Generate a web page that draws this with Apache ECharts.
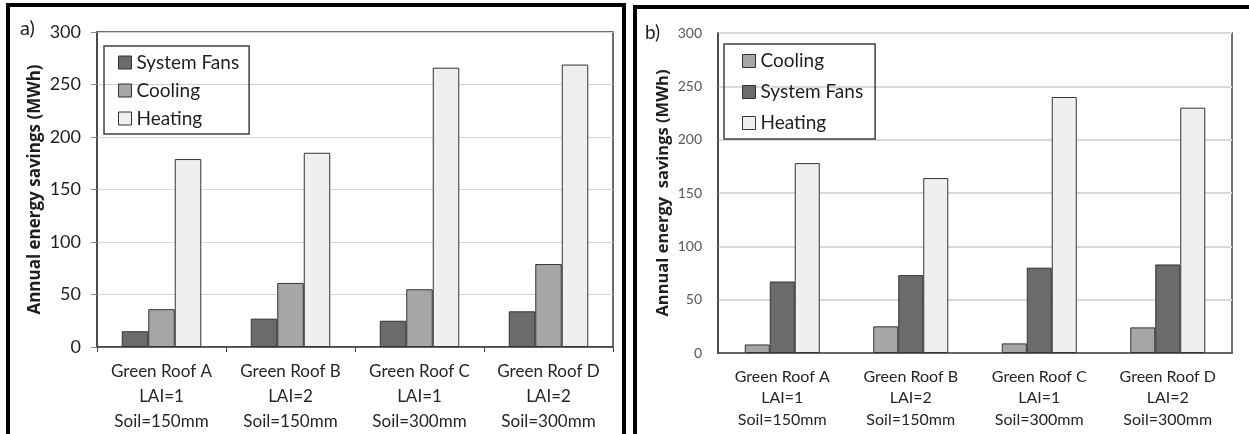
<!DOCTYPE html>
<html>
<head>
<meta charset="utf-8">
<script src="https://cdn.jsdelivr.net/npm/echarts@6/dist/echarts.min.js"></script>
<style>
html,body{margin:0;padding:0;background:#fff;}
#chart{width:1249px;height:434px;}
</style>
</head>
<body>
<div id="chart"></div>
<script>
// ---- data ----
var roofNames = ['Green Roof A', 'Green Roof B', 'Green Roof C', 'Green Roof D'];
var roofLAI = ['LAI=1', 'LAI=2', 'LAI=1', 'LAI=2'];
var roofSoil = ['Soil=150mm', 'Soil=150mm', 'Soil=300mm', 'Soil=300mm'];
var yTicks = [0, 50, 100, 150, 200, 250, 300];

// panel a
var aFans = [15, 27, 25, 34];
var aCooling = [36, 61, 55, 79];
var aHeating = [179, 185, 266, 269];
// panel b
var bCooling = [8, 25, 9, 24];
var bFans = [67, 73, 80, 83];
var bHeating = [178, 164, 240, 230];

var categories = roofNames.map(function (n, i) { return n + '\n' + roofLAI[i] + '\n' + roofSoil[i]; });

var FONT = 'Lato, "Open Sans", sans-serif';
var BOLD = '"Open Sans", "Noto Sans", sans-serif';
var cFans = '#6b6b6b', cCool = '#a6a6a6', cHeat = '#efefef', cEdge = '#333333';

function bar(name, data, color, gi, w) {
  return {
    type: 'bar', name: name, data: data,
    xAxisIndex: gi, yAxisIndex: gi,
    barWidth: w, barGap: '0%',
    itemStyle: { color: color, borderColor: cEdge, borderWidth: 1 },
    emphasis: { disabled: true },
    animation: false
  };
}

var chart = echarts.init(document.getElementById('chart'), null, { renderer: 'canvas' });
chart.setOption({
  backgroundColor: '#ffffff',
  animation: false,
  textStyle: { fontFamily: FONT },
  grid: [
    { left: 97, top: 32, right: 636, bottom: 86, show: true, borderColor: '#404040', borderWidth: 1.5, backgroundColor: 'transparent' },
    { left: 718, top: 33, right: 17, bottom: 81, show: true, borderColor: '#404040', borderWidth: 1.5, backgroundColor: 'transparent' }
  ],
  legend: [
    {
      data: ['System Fans', 'Cooling', 'Heating'],
      orient: 'vertical', left: 104, top: 46,
      padding: [6, 10, 5, 14],
      itemWidth: 13, itemHeight: 13, itemGap: 7,
      borderColor: '#404040', borderWidth: 1.5,
      icon: 'rect',
      itemStyle: { borderColor: cEdge, borderWidth: 1 },
      textStyle: { fontFamily: FONT, fontSize: 19, color: '#1f1f1f', lineHeight: 21 },
      selectedMode: false
    },
    {
      data: ['Cooling', 'System Fans', 'Heating'],
      orient: 'vertical', left: 724, top: 44,
      padding: [6, 12, 5, 18],
      itemWidth: 13, itemHeight: 13, itemGap: 9,
      borderColor: '#404040', borderWidth: 1.5,
      icon: 'rect',
      itemStyle: { borderColor: cEdge, borderWidth: 1 },
      textStyle: { fontFamily: FONT, fontSize: 19, color: '#1f1f1f', lineHeight: 22 },
      selectedMode: false
    }
  ],
  xAxis: [
    {
      type: 'category', gridIndex: 0, data: categories,
      axisLine: { lineStyle: { color: '#404040', width: 1.5 } },
      axisTick: { show: true, length: 5, lineStyle: { color: '#404040' } },
      axisLabel: { fontFamily: FONT, fontSize: 17, color: '#262626', lineHeight: 25, margin: 12, interval: 0 }
    },
    {
      type: 'category', gridIndex: 1, data: categories,
      axisLine: { lineStyle: { color: '#404040', width: 1.5 } },
      axisTick: { show: false },
      axisLabel: { fontFamily: FONT, fontSize: 16, color: '#262626', lineHeight: 21.5, margin: 13, interval: 0 }
    }
  ],
  yAxis: [
    {
      type: 'value', gridIndex: 0, min: yTicks[0], max: yTicks[yTicks.length - 1], interval: yTicks[1] - yTicks[0],
      name: 'Annual energy savings (MWh)', nameLocation: 'middle', nameGap: 53,
      nameTextStyle: { fontFamily: BOLD, fontSize: 17, fontWeight: 'bold', color: '#1f1f1f' },
      axisLine: { show: true, lineStyle: { color: '#404040', width: 1.5 } },
      axisTick: { show: true, length: 6, lineStyle: { color: '#8c8c8c' } },
      axisLabel: { fontFamily: FONT, fontSize: 18, color: '#1f1f1f', margin: 16 },
      splitLine: { show: true, lineStyle: { color: '#d4d4d4', width: 1 } }
    },
    {
      type: 'value', gridIndex: 1, min: yTicks[0], max: yTicks[yTicks.length - 1], interval: yTicks[1] - yTicks[0],
      name: 'Annual energy  savings (MWh)', nameLocation: 'middle', nameGap: 46,
      nameTextStyle: { fontFamily: BOLD, fontSize: 16.5, fontWeight: 'bold', color: '#1f1f1f' },
      axisLine: { show: true, lineStyle: { color: '#404040', width: 1.5 } },
      axisTick: { show: false },
      axisLabel: { fontFamily: FONT, fontSize: 14, color: '#595959', margin: 16 },
      splitLine: { show: true, lineStyle: { color: '#d9d9d9', width: 2 } }
    }
  ],
  graphic: [
    { type: 'rect', shape: { x: 8, y: 5, width: 616, height: 440 }, style: { fill: 'none', stroke: '#000', lineWidth: 4 }, z: 100 },
    { type: 'rect', shape: { x: 635, y: 7, width: 630, height: 440 }, style: { fill: 'none', stroke: '#000', lineWidth: 4 }, z: 100 },
    { type: 'text', left: 20, top: 19, style: { text: 'a)', font: '20px ' + FONT, fill: '#1f1f1f' } },
    { type: 'text', left: 645, top: 23, style: { text: 'b)', font: '19px ' + FONT, fill: '#1f1f1f' } }
  ],
  series: [
    bar('System Fans', aFans, cFans, 0, 26.5),
    bar('Cooling', aCooling, cCool, 0, 26.5),
    bar('Heating', aHeating, cHeat, 0, 26.5),
    bar('Cooling', bCooling, cCool, 1, 25),
    bar('System Fans', bFans, cFans, 1, 25),
    bar('Heating', bHeating, cHeat, 1, 25)
  ]
});
</script>
</body>
</html>
